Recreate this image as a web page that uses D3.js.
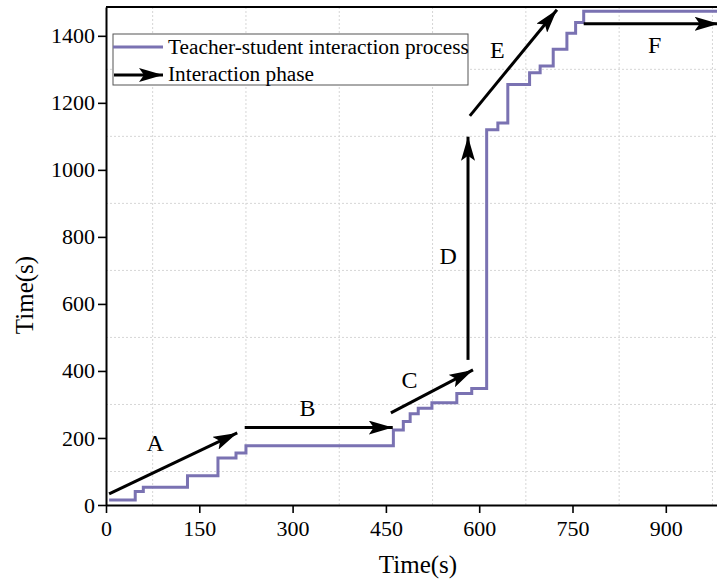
<!DOCTYPE html>
<html>
<head>
<meta charset="utf-8">
<script src="https://cdn.jsdelivr.net/npm/d3@7"></script>
<style>
  body { margin: 0; background: #fff; }
  svg { display: block; font-family: "Liberation Serif", "Times New Roman", serif; }
  svg text { font-family: "Liberation Serif", "Times New Roman", serif; }
</style>
</head>
<body>
<div id="chart"></div>
<script>
// step line : temps (x) vs temps cumulé (y)
var stepX = [5, 47, 60, 131, 180, 209, 225, 462, 478, 489, 502, 524, 564, 588, 612, 630, 646, 681, 698, 719, 741, 755, 768, 1000];
var stepY = [15, 40, 53, 87, 140, 155, 177, 224, 249, 272, 289, 305, 333, 348, 1120, 1140, 1255, 1290, 1310, 1360, 1408, 1440, 1473, 1473];

// flèches des phases d'interaction (coordonnées données)
var phaseNames = ["A", "B", "C", "D", "E", "F"];
var phaseStart = [[5, 33], [223, 231], [458, 275], [582, 433], [585, 1161], [768, 1436]];
var phaseEnd = [[211, 215], [461, 231], [590, 403], [582, 1099], [725, 1478], [985, 1436]];
var phaseLabel = [[79, 185], [324, 290], [488, 373], [550, 745], [629, 1358], [882, 1373]];

var xMajor = [0, 150, 300, 450, 600, 750, 900];
var xMinor = [75, 225, 375, 525, 675, 825, 975];
var yMajor = [0, 200, 400, 600, 800, 1000, 1200, 1400];
var yMinor = [100, 300, 500, 700, 900, 1100, 1300];

var legendNames = ["Teacher-student interaction process", "Interaction phase"];

var width = 717, height = 579;
var x0 = 106, y0 = 505, yTop = 7;
var lineColor = "#7a72b2";

var x = d3.scaleLinear().domain([0, 1000]).range([x0, x0 + 1000 * 93.3 / 150]);
var y = d3.scaleLinear().domain([0, 1486]).range([y0, yTop]);

var svg = d3.select("#chart")
    .append("svg")
    .attr("width", width)
    .attr("height", height);

svg.append("defs").append("marker")
    .attr("id", "head")
    .attr("markerUnits", "userSpaceOnUse")
    .attr("viewBox", "0 0 24 14")
    .attr("markerWidth", 24)
    .attr("markerHeight", 14)
    .attr("refX", 24)
    .attr("refY", 7)
    .attr("orient", "auto")
    .append("path")
    .attr("d", "M0,0 L24,7 L0,14 L5,7 Z")
    .attr("fill", "#000");

// grille (aux graduations secondaires)
svg.append("g").selectAll("line")
    .data(xMinor)
    .enter().append("line")
    .attr("x1", function(d){ return x(d); })
    .attr("x2", function(d){ return x(d); })
    .attr("y1", y0)
    .attr("y2", yTop)
    .attr("stroke", "#d6d6d6")
    .attr("stroke-dasharray", "2,2");

svg.append("g").selectAll("line")
    .data(yMinor)
    .enter().append("line")
    .attr("x1", x0)
    .attr("x2", width)
    .attr("y1", function(d){ return y(d); })
    .attr("y2", function(d){ return y(d); })
    .attr("stroke", "#d6d6d6")
    .attr("stroke-dasharray", "2,2");

// courbe en escalier
var pts = stepX.map(function(d, i){ return [d, stepY[i]]; });
var line = d3.line()
    .x(function(d){ return x(d[0]); })
    .y(function(d){ return y(d[1]); })
    .curve(d3.curveStepAfter);

svg.append("path")
    .datum(pts)
    .attr("d", line)
    .attr("fill", "none")
    .attr("stroke", lineColor)
    .attr("stroke-width", 3);

// flèches
svg.append("g").selectAll("line")
    .data(phaseNames)
    .enter().append("line")
    .attr("x1", function(d, i){ return x(phaseStart[i][0]); })
    .attr("y1", function(d, i){ return y(phaseStart[i][1]); })
    .attr("x2", function(d, i){ return x(phaseEnd[i][0]); })
    .attr("y2", function(d, i){ return y(phaseEnd[i][1]); })
    .attr("stroke", "#000")
    .attr("stroke-width", 3)
    .attr("marker-end", "url(#head)");

svg.append("g").selectAll("text")
    .data(phaseNames)
    .enter().append("text")
    .attr("x", function(d, i){ return x(phaseLabel[i][0]); })
    .attr("y", function(d, i){ return y(phaseLabel[i][1]); })
    .attr("dy", "0.35em")
    .attr("text-anchor", "middle")
    .attr("font-size", 24)
    .text(function(d){ return d; });

// axes
var gx = svg.append("g").attr("transform", "translate(0," + y0 + ")");
gx.call(d3.axisBottom(x).tickValues(xMinor).tickSize(5).tickSizeOuter(0).tickFormat(""));
gx.call(d3.axisBottom(x).tickValues(xMajor).tickSize(8).tickSizeOuter(0).tickPadding(7).tickFormat(d3.format("d")));

var gy = svg.append("g").attr("transform", "translate(" + x0 + ",0)");
gy.call(d3.axisLeft(y).tickValues(yMinor).tickSize(5).tickSizeOuter(0).tickFormat(""));
gy.call(d3.axisLeft(y).tickValues(yMajor).tickSize(8).tickSizeOuter(0).tickPadding(3).tickFormat(d3.format("d")));

gx.attr("font-family", null).attr("font-size", null);
gy.attr("font-family", null).attr("font-size", null);
svg.selectAll(".domain").attr("stroke-width", 2);
svg.selectAll(".tick line").attr("stroke-width", 1.6);
svg.selectAll(".tick text")
    .style("font-size", "22px")
    .attr("fill", "#000");

// bord supérieur
svg.append("line")
    .attr("x1", x0).attr("x2", width)
    .attr("y1", yTop).attr("y2", yTop)
    .attr("stroke", "#000")
    .attr("stroke-width", 2);

// titres
svg.append("text")
    .attr("x", 418)
    .attr("y", 573)
    .attr("text-anchor", "middle")
    .attr("font-size", 25)
    .text("Time(s)");

svg.append("text")
    .attr("transform", "translate(33,295) rotate(-90)")
    .attr("text-anchor", "middle")
    .attr("font-size", 25)
    .text("Time(s)");

// légende
var leg = svg.append("g");
leg.append("rect")
    .attr("x", 113).attr("y", 34)
    .attr("width", 355).attr("height", 51)
    .attr("fill", "#fff")
    .attr("stroke", "#555")
    .attr("stroke-width", 1);
leg.append("line")
    .attr("x1", 113).attr("x2", 163)
    .attr("y1", 47).attr("y2", 47)
    .attr("stroke", lineColor)
    .attr("stroke-width", 3);
leg.append("line")
    .attr("x1", 114).attr("x2", 163)
    .attr("y1", 75).attr("y2", 75)
    .attr("stroke", "#000")
    .attr("stroke-width", 3)
    .attr("marker-end", "url(#head)");
leg.selectAll("text")
    .data(legendNames)
    .enter().append("text")
    .attr("x", 168)
    .attr("y", function(d, i){ return 54 + i * 27; })
    .attr("font-size", 21.3)
    .text(function(d){ return d; });
</script>
</body>
</html>
